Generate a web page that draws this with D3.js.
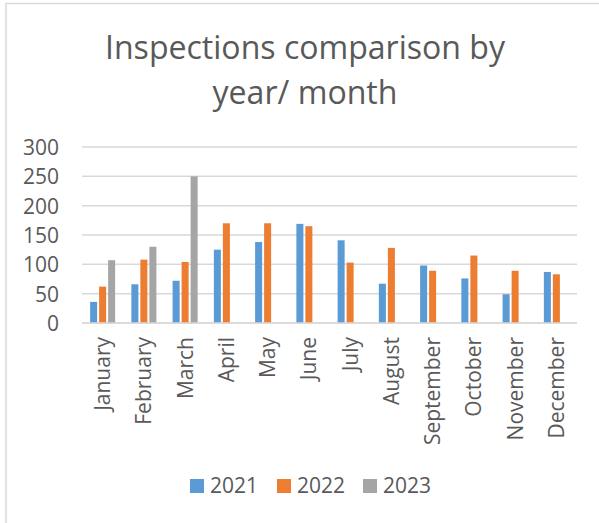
<!DOCTYPE html>
<html>
<head>
<meta charset="utf-8">
<script src="https://cdn.jsdelivr.net/npm/d3@7"></script>
<style>
  html, body { margin: 0; padding: 0; background: #fff; }
  svg { display: block; }
  text { font-family: "Open Sans", "Liberation Sans", sans-serif; fill: #595959; }
</style>
</head>
<body>
<svg id="chart" width="599" height="523"></svg>
<script>
const months = ["January","February","March","April","May","June","July","August","September","October","November","December"];
const seriesNames = ["2021","2022","2023"];
const values2021 = [36, 66, 72, 125, 138, 169, 141, 67, 98, 76, 49, 87];
const values2022 = [62, 108, 104, 170, 170, 165, 103, 128, 89, 115, 89, 83];
const values2023 = [107, 130, 250, null, null, null, null, null, null, null, null, null];
const yTicks = [0, 50, 100, 150, 200, 250, 300];
const titleLines = ["Inspections comparison by", "year/ month"];
const colors = ["#5B9BD5", "#ED7D31", "#A5A5A5"];

const seriesValues = [values2021, values2022, values2023];

const svg = d3.select("#chart");
const grid = "#D9D9D9";

// chart frame
svg.append("line").attr("x1", 6).attr("x2", 6).attr("y1", 3).attr("y2", 523)
  .attr("stroke", grid).attr("stroke-width", 1.5);
svg.append("line").attr("x1", 6).attr("x2", 599).attr("y1", 3.5).attr("y2", 3.5)
  .attr("stroke", grid).attr("stroke-width", 1.5);

// title
const tBaselines = [59, 104];
const tWidths = [400, 185];
titleLines.forEach((t, i) => {
  const el = svg.append("text")
    .attr("x", 305).attr("y", tBaselines[i])
    .attr("text-anchor", "middle")
    .attr("font-size", 33)
    .text(t);
  const w = el.node().getComputedTextLength();
  if (Math.abs(w - tWidths[i]) > 4) {
    el.attr("textLength", tWidths[i]).attr("lengthAdjust", "spacingAndGlyphs");
  }
});

const plotLeft = 82, plotRight = 577, plotTop = 147, plotBottom = 323;

const y = d3.scaleLinear().domain([0, 300]).range([plotBottom, plotTop]);
const x0 = d3.scaleBand().domain(months).range([plotLeft, plotRight])
  .paddingInner(14.25 / 41.25).paddingOuter(14.25 / 41.25 / 2);
const x1 = d3.scaleBand().domain(seriesNames).range([0, x0.bandwidth()])
  .paddingInner(0.22).paddingOuter(0.11);

// gridlines
svg.append("g").selectAll("line").data(yTicks).join("line")
  .attr("x1", plotLeft).attr("x2", plotRight)
  .attr("y1", d => y(d)).attr("y2", d => y(d))
  .attr("stroke", grid).attr("stroke-width", 1.5);

// y axis labels
const yAxis = d3.axisLeft(y).tickValues(yTicks).tickSize(0).tickPadding(0);
const gy = svg.append("g").attr("transform", `translate(59,0)`).call(yAxis);
gy.select(".domain").remove();
gy.selectAll("text").attr("font-size", 21).attr("fill", "#595959")
  .attr("font-family", "Open Sans, sans-serif").attr("dy", "0.36em").attr("x", 0);

// bars
const groups = svg.append("g").selectAll("g").data(months).join("g")
  .attr("transform", d => `translate(${x0(d)},0)`);
groups.selectAll("rect")
  .data((m, i) => seriesNames.map((s, j) => ({ s, j, v: seriesValues[j][i] })).filter(d => d.v != null))
  .join("rect")
  .attr("x", d => x1(d.s))
  .attr("width", x1.bandwidth())
  .attr("y", d => y(d.v))
  .attr("height", d => y(0) - y(d.v))
  .attr("fill", d => colors[d.j]);

// x axis
const xAxis = d3.axisBottom(x0).tickSize(0).tickPadding(0);
const gx = svg.append("g").attr("transform", `translate(0,${plotBottom})`).call(xAxis);
gx.select(".domain").attr("stroke", grid).attr("stroke-width", 1.5)
  .attr("d", `M${plotLeft},0H${plotRight}`);
gx.selectAll(".tick text")
  .attr("font-size", 21).attr("fill", "#595959").attr("font-family", "Open Sans, sans-serif")
  .attr("text-anchor", "end")
  .attr("transform", "translate(0,14) rotate(-90)")
  .attr("x", 0).attr("y", 0).attr("dy", "0.36em");

// legend
const legendX = [190, 277, 363];
const lg = svg.append("g").selectAll("g").data(seriesNames).join("g")
  .attr("transform", (d, i) => `translate(${legendX[i]},479)`);
lg.append("rect").attr("width", 14).attr("height", 14).attr("fill", (d, i) => colors[i]);
lg.append("text").attr("x", 20).attr("y", 14).attr("font-size", 21).text(d => d);
</script>
</body>
</html>
